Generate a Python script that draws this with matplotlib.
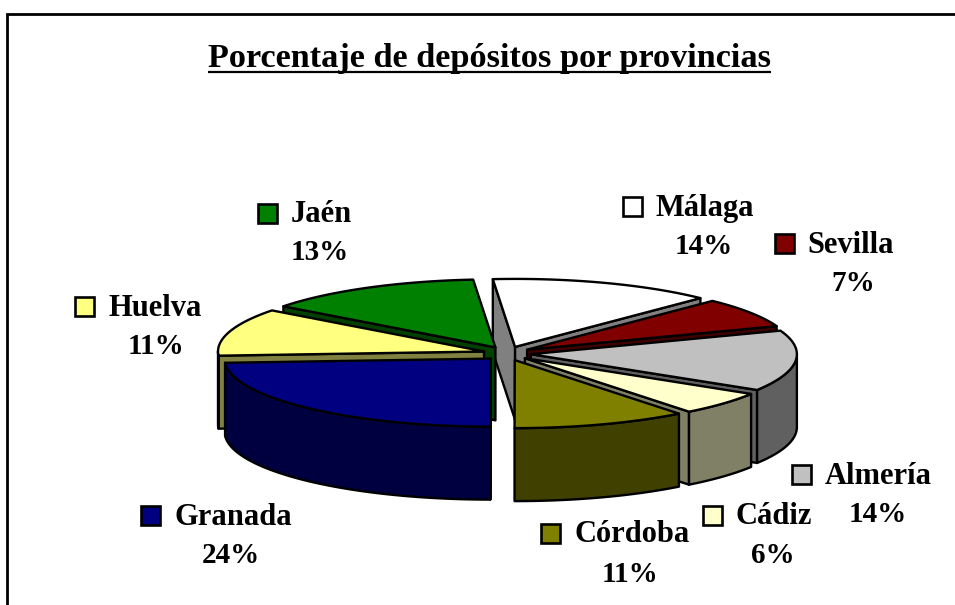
import numpy as np
import matplotlib
matplotlib.use("Agg")
import matplotlib.pyplot as plt
from matplotlib.patches import Polygon, Rectangle

title = "Porcentaje de depósitos por provincias"

# clockwise from the top
provinces = ["Málaga", "Sevilla", "Almería", "Cádiz", "Córdoba", "Granada", "Huelva", "Jaén"]
shares = [13.6, 7.1, 14.45, 5.6, 10.6, 24.0, 11.3, 13.35]

top_colors = ["#FFFFFF", "#800000", "#C0C0C0", "#FFFFCC", "#808000", "#000080", "#FFFF80", "#008000"]
side_colors = ["#808080", "#400000", "#606060", "#808066", "#404000", "#000040", "#808040", "#004000"]

# layout in pixels: swatch centre, name left/baseline, percent centre/baseline
swatch_xy = [(632.5, 206), (784, 243), (801, 474), (712, 515), (550, 533), (150.5, 515), (84, 306), (267.5, 213)]
name_xy = [(655, 216), (807, 253), (825, 484), (735, 524), (574, 542), (174, 525), (108, 316), (291, 222)]
pct_xy = [(704, 254), (853, 291), (878, 522), (773, 563), (630, 582), (231, 563), (156, 354), (320, 260)]

W, H = 955, 605
CX, CY = 507, 353.5
RX, RY = 266, 68
EX, EY = 24, 7
DEPTH = 73
START = -4.8
LW = 1.7

plt.rcParams["font.family"] = ["Liberation Serif", "DejaVu Serif"]

fig = plt.figure(figsize=(W / 100, H / 100), dpi=100)
ax = fig.add_axes([0, 0, 1, 1])
ax.set_xlim(0, W)
ax.set_ylim(H, 0)
ax.axis("off")


def rim(apex, deg):
    rad = np.radians(deg)
    return apex[0] + RX * np.sin(rad), apex[1] - RY * np.cos(rad)


def arc(apex, a0, a1):
    t = np.linspace(a0, a1, 80)
    x, y = rim(apex, t)
    return np.column_stack([x, y])


def add_poly(pts, color):
    ax.add_patch(Polygon(pts, closed=True, facecolor=color, edgecolor="black",
                         linewidth=LW, joinstyle="round"))


def draw_slice(apex, a0, a1, top, side):
    drop = np.array([0, DEPTH])
    # flat cut faces, only when they turn towards the viewer
    for deg, visible in ((a0, np.sin(np.radians(a0)) < 0), (a1, np.sin(np.radians(a1)) > 0)):
        if visible:
            p = np.array(apex)
            q = np.array(rim(apex, deg))
            add_poly([p, q, q + drop, p + drop], side)
    # outer wall, front half only
    lo, hi = max(a0, 90), min(a1, 270)
    if lo < hi:
        edge = arc(apex, lo, hi)
        add_poly(np.vstack([edge, edge[::-1] + drop]), side)
    add_poly(np.vstack([[apex], arc(apex, a0, a1)]), top)


edges = START + np.cumsum([0] + shares) * 360 / sum(shares)
mids = (edges[:-1] + edges[1:]) / 2
apexes = [(CX + EX * np.sin(np.radians(m)), CY - EY * np.cos(np.radians(m))) for m in mids]

# back slices first
order = sorted(range(len(shares)), key=lambda i: np.cos(np.radians(mids[i])), reverse=True)
for i in order:
    draw_slice(apexes[i], edges[i], edges[i + 1], top_colors[i], side_colors[i])

for i, name in enumerate(provinces):
    sx, sy = swatch_xy[i]
    ax.add_patch(Rectangle((sx - 9.5, sy - 9.5), 19, 19, facecolor=top_colors[i],
                           edgecolor="black", linewidth=1.9))
    ax.text(name_xy[i][0], name_xy[i][1], name, fontsize=22, fontweight="bold",
            ha="left", va="baseline")
    ax.text(pct_xy[i][0], pct_xy[i][1], f"{round(shares[i])}%", fontsize=21, fontweight="bold",
            ha="center", va="baseline")

title_txt = ax.text(489, 67, title, fontsize=24.7, fontweight="bold", ha="center", va="baseline")
box = title_txt.get_window_extent(fig.canvas.get_renderer())
ax.plot([box.x0, box.x1], [71.5, 71.5], color="black", linewidth=1.6, solid_capstyle="butt")

# frame runs off the right and bottom of the picture
ax.plot([7, 7, W], [H, 13.5, 13.5], color="black", linewidth=2, solid_joinstyle="miter")

fig.savefig("out.png", dpi=100)
